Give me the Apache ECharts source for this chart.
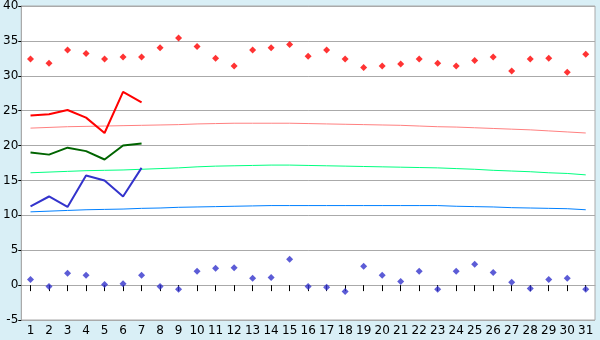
<!DOCTYPE html>
<html>
<head>
<meta charset="utf-8">
<script src="https://cdn.jsdelivr.net/npm/echarts@6/dist/echarts.min.js"></script>
<style>
html,body{margin:0;padding:0;background:#d9eff6;}
#c{width:600px;height:340px;}
</style>
</head>
<body>
<div id="c"></div>
<script>
var days = [];
for (var i = 1; i <= 31; i++) days.push(String(i));

var recordMax = [32.4,31.8,33.7,33.2,32.4,32.7,32.7,34.0,35.4,34.2,32.5,31.4,33.7,34.0,34.5,32.8,33.7,32.4,31.2,31.4,31.7,32.4,31.8,31.4,32.2,32.7,30.7,32.4,32.5,30.5,33.1];
var recordMin = [0.8,-0.2,1.7,1.4,0.1,0.2,1.4,-0.2,-0.6,2.0,2.4,2.5,1.0,1.1,3.7,-0.2,-0.3,-0.9,2.7,1.4,0.5,2.0,-0.6,2.0,3.0,1.8,0.4,-0.5,0.8,1.0,-0.6];
var dailyMax = [24.3,24.5,25.1,24.0,21.8,27.7,26.2];
var dailyMean = [19.0,18.7,19.7,19.2,18.0,20.0,20.3];
var dailyMin = [11.3,12.7,11.2,15.7,15.0,12.7,16.8];
var normalMax = [22.5,22.6,22.7,22.75,22.8,22.85,22.9,22.95,23.0,23.1,23.15,23.2,23.2,23.2,23.2,23.15,23.1,23.05,23.0,22.95,22.9,22.8,22.7,22.65,22.55,22.45,22.35,22.25,22.1,21.95,21.8];
var normalMean = [16.1,16.2,16.3,16.4,16.45,16.5,16.6,16.7,16.8,16.95,17.05,17.1,17.15,17.2,17.2,17.15,17.1,17.05,17.0,16.95,16.9,16.85,16.8,16.7,16.6,16.45,16.35,16.25,16.1,16.0,15.8];
var normalMin = [10.5,10.6,10.7,10.8,10.85,10.9,11.0,11.05,11.15,11.2,11.25,11.3,11.35,11.4,11.4,11.4,11.4,11.4,11.4,11.4,11.4,11.4,11.4,11.3,11.25,11.2,11.1,11.05,11.0,10.95,10.8];

var yTicks = {min: -5, max: 40, interval: 5};
var font = 'DejaVu Sans';

var chart = echarts.init(document.getElementById('c'), null, {renderer: 'canvas'});

function lineSeries(data, color, width, z) {
  return {
    type: 'line', data: data, symbol: 'none', smooth: false,
    lineStyle: {color: color, width: width}, z: z, animation: false
  };
}
function markSeries(data, color) {
  return {
    type: 'scatter', data: data, symbol: 'diamond', symbolSize: 7,
    itemStyle: {color: color}, z: 5, animation: false
  };
}

chart.setOption({
  animation: false,
  backgroundColor: '#d9eff6',
  grid: {left: 20, right: 5, top: 5, bottom: 20, show: true, backgroundColor: '#ffffff', borderColor: '#aaaaaa', borderWidth: 1},
  xAxis: {
    type: 'category', data: days, boundaryGap: true,
    axisLine: {show: true, lineStyle: {color: '#aaaaaa', width: 1}},
    axisTick: {show: true, alignWithLabel: true, length: 6, lineStyle: {color: '#000000'}},
    axisLabel: {color: '#000000', fontFamily: font, fontSize: 12, margin: 5, interval: 0},
    splitLine: {show: false}
  },
  yAxis: {
    type: 'value', min: yTicks.min, max: yTicks.max, interval: yTicks.interval,
    axisLine: {show: true, lineStyle: {color: '#aaaaaa', width: 1}},
    axisTick: {show: true, length: 3, lineStyle: {color: '#000000'}},
    axisLabel: {color: '#000000', fontFamily: font, fontSize: 12, margin: 3, padding: [3, 0, 0, 0]},
    splitLine: {show: true, lineStyle: {color: '#aaaaaa', width: 1}}
  },
  series: [
    lineSeries(normalMax, '#ff8080', 1, 2),
    lineSeries(normalMean, '#00ff80', 1, 2),
    lineSeries(normalMin, '#0080ff', 1, 2),
    lineSeries(dailyMax, '#ff0000', 2, 3),
    lineSeries(dailyMean, '#006400', 2, 3),
    lineSeries(dailyMin, '#3333cc', 2, 3),
    markSeries(recordMax, '#ff0000'),
    markSeries(recordMin, '#3333cc')
  ]
});
</script>
</body>
</html>
